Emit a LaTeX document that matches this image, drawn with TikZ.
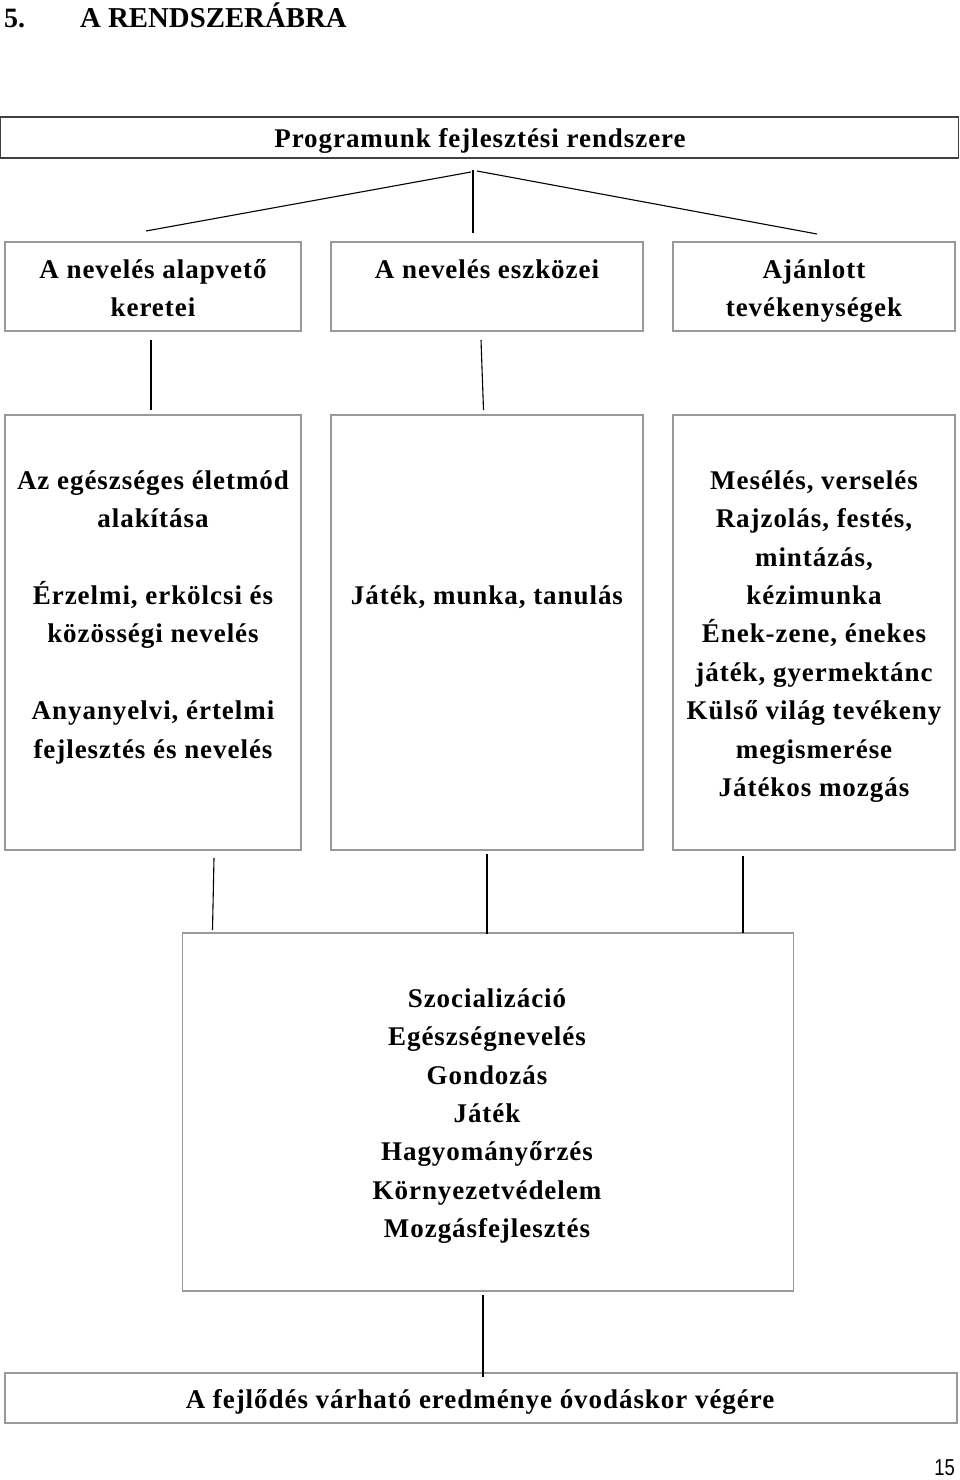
\documentclass[tikz,border=0pt]{standalone}
\usepackage{fontspec}
\setmainfont{Liberation Serif}[LetterSpace=3.5]
\newfontfamily\plainserif{Liberation Serif}
\newfontfamily\pagesans{Liberation Sans}
\begin{document}
\begin{tikzpicture}[x=1pt,y=-1pt,
  box/.style={draw=black!40, line width=1.5pt, inner sep=0pt, fill=white},
  topbox/.style={draw=black!75, line width=1.2pt, inner sep=0pt},
  link/.style={draw=black, line width=1.1pt},
  txt/.style={anchor=north, align=center, inner sep=0pt,
    font=\fontsize{27}{38.4}\selectfont\bfseries}]
\useasboundingbox[fill=white] (0,0) rectangle (960,1480);

% heading
\node[anchor=base west, inner sep=0pt, font=\plainserif\fontsize{28}{30}\selectfont\bfseries] (hnum) at (4,28) {5.};
\node[anchor=base west, inner sep=0pt, font=\plainserif\fontsize{28.8}{30}\selectfont\bfseries] (htitle) at (80,28) {A RENDSZERÁBRA};

% top box
\node[topbox, minimum width=958, minimum height=41] (top) at (479.5,137.5) {};
\node[txt] (toptxt) at (480,147-26.88) {\strut Programunk fejlesztési rendszere};

% level 2 boxes
\node[box, minimum width=296, minimum height=89] (a1) at (153,286.5) {};
\node[box, minimum width=312, minimum height=89] (a2) at (487,286.5) {};
\node[box, minimum width=282, minimum height=89] (a3) at (814,286.5) {};
\node[txt] (a1t) at (153,278-26.88) {\strut A nevelés alapvető\\keretei};
\node[txt] (a2t) at (487,278-26.88) {\strut A nevelés eszközei};
\node[txt] (a3t) at (814,278-26.88) {\strut Ajánlott\\tevékenységek};

% connectors top -> level 2
\coordinate (t0) at (471,172);
\coordinate (t1) at (473,170);
\coordinate (t2) at (477,171);
\coordinate (e1) at (146,231);
\coordinate (e2) at (473,233);
\coordinate (e3) at (817,234);
\draw[link] (t0) -- (e1);
\draw[link] (t1) -- (e2);
\draw[link] (t2) -- (e3);

% level 3 boxes
\node[box, minimum width=296, minimum height=435] (b1) at (153,632.5) {};
\node[box, minimum width=312, minimum height=435] (b2) at (487,632.5) {};
\node[box, minimum width=282, minimum height=435] (b3) at (814,632.5) {};
\node[txt] (b1t) at (153,489-26.88) {\strut Az egészséges életmód\\alakítása\\[38.4pt]Érzelmi, erkölcsi és\\közösségi nevelés\\[38.4pt]Anyanyelvi, értelmi\\fejlesztés és nevelés};
\node[txt] (b2t) at (487,604-26.88) {\strut Játék, munka, tanulás};
\node[txt] (b3t) at (814,489-26.88) {\strut Mesélés, verselés\\Rajzolás, festés,\\mintázás,\\kézimunka\\Ének-zene, énekes\\játék, gyermektánc\\Külső világ tevékeny\\megismerése\\Játékos mozgás};

% connectors level 2 -> level 3
\coordinate (u1) at (151,340);
\coordinate (v1) at (151,410);
\coordinate (u2) at (481,340);
\coordinate (v2) at (483.5,410);
\draw[link] (u1) -- (v1);
\draw[link] (u2) -- (v2);

% level 4 box
\node[box, minimum width=611, minimum height=358] (c) at (488,1112) {};
\node[txt] (ct) at (487,1007-26.88) {\strut Szocializáció\\Egészségnevelés\\Gondozás\\Játék\\Hagyományőrzés\\Környezetvédelem\\Mozgásfejlesztés};

% connectors level 3 -> level 4
\coordinate (w1) at (214,858);
\coordinate (x1) at (212.5,930);
\coordinate (w2) at (487,854);
\coordinate (x2) at (487,934);
\coordinate (w3) at (743,856);
\coordinate (x3) at (743,933);
\draw[link] (w1) -- (x1);
\draw[link] (w2) -- (x2);
\draw[link] (w3) -- (x3);

% bottom box
\node[box, minimum width=952, minimum height=50] (d) at (481,1398) {};
\node[txt] (dt) at (480,1408-26.88) {\strut A fejlődés várható eredménye óvodáskor végére};
\coordinate (y1) at (483,1295);
\coordinate (z1) at (483,1377);
\draw[link] (y1) -- (z1);

% page number
\node[anchor=base east, inner sep=0pt, font=\pagesans\fontsize{23}{24}\selectfont] (pg) at (955,1475) {\scalebox{0.8}[1]{15}};
\end{tikzpicture}
\end{document}
